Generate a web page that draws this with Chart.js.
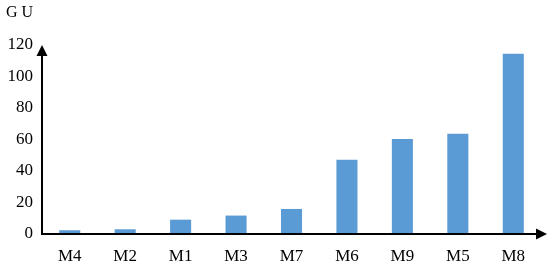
<!DOCTYPE html>
<html>
<head>
<meta charset="utf-8">
<script src="https://cdn.jsdelivr.net/npm/chart.js@4/dist/chart.umd.min.js"></script>
<style>
  html, body { margin: 0; padding: 0; background: #fff; }
  #wrap { width: 550px; height: 267px; }
</style>
</head>
<body>
<div id="wrap"><canvas id="chart" width="550" height="267"></canvas></div>
<script>
// 데이터
const categories = ['M4', 'M2', 'M1', 'M3', 'M7', 'M6', 'M9', 'M5', 'M8'];
const guValues = [2.4, 3, 9.1, 11.7, 15.9, 47.1, 60.3, 63.7, 114.5];
const yTicks = [0, 20, 40, 60, 80, 100, 120];

const FONT = '"Liberation Serif", "Times New Roman", serif';

// 화살표 축 그리기
const arrowAxes = {
  id: 'arrowAxes',
  afterDraw(chart) {
    const ctx = chart.ctx;
    const area = chart.chartArea;
    const y0 = chart.scales.y.getPixelForValue(0);
    const yTop = chart.scales.y.getPixelForValue(120);
    const x0 = area.left;
    const xEnd = chart.width - 3;
    ctx.save();
    ctx.strokeStyle = '#000';
    ctx.fillStyle = '#000';
    ctx.lineWidth = 2;
    ctx.beginPath();
    ctx.moveTo(x0, y0);
    ctx.lineTo(x0, yTop + 8);
    ctx.moveTo(x0 - 1, y0);
    ctx.lineTo(xEnd - 8, y0);
    ctx.stroke();
    // y 화살표
    ctx.beginPath();
    ctx.moveTo(x0, yTop);
    ctx.lineTo(x0 - 5.5, yTop + 11);
    ctx.lineTo(x0 + 5.5, yTop + 11);
    ctx.closePath();
    ctx.fill();
    // x 화살표
    ctx.beginPath();
    ctx.moveTo(xEnd, y0);
    ctx.lineTo(xEnd - 11, y0 - 5.5);
    ctx.lineTo(xEnd - 11, y0 + 5.5);
    ctx.closePath();
    ctx.fill();
    // 축 제목
    ctx.font = '16px ' + FONT;
    ctx.textAlign = 'left';
    ctx.textBaseline = 'middle';
    ctx.fillText('G U', 6, 13);
    ctx.restore();
  }
};

const ctx = document.getElementById('chart').getContext('2d');
const chart = new Chart(ctx, {
  type: 'bar',
  data: {
    labels: categories,
    datasets: [{
      label: 'GU',
      data: guValues,
      backgroundColor: '#5B9BD5',
      borderWidth: 0,
      barPercentage: 0.38,
      categoryPercentage: 1
    }]
  },
  options: {
    responsive: false,
    animation: false,
    layout: { padding: { top: 45, right: 9, left: 0, bottom: 0 } },
    plugins: {
      legend: { display: false },
      tooltip: { enabled: false }
    },
    scales: {
      x: {
        grid: { display: false, drawTicks: false },
        border: { display: false },
        ticks: { color: '#000', padding: 12, font: { family: FONT, size: 17 } },
        afterFit(scale) { scale.height = 33; }
      },
      y: {
        min: 0,
        max: 120,
        grid: { display: false, drawTicks: false },
        border: { display: false },
        afterBuildTicks(scale) { scale.ticks = yTicks.map(v => ({ value: v })); },
        ticks: { color: '#000', padding: 9, font: { family: FONT, size: 17 } },
        afterFit(scale) { scale.width = 42; }
      }
    }
  },
  plugins: [arrowAxes]
});
</script>
</body>
</html>
